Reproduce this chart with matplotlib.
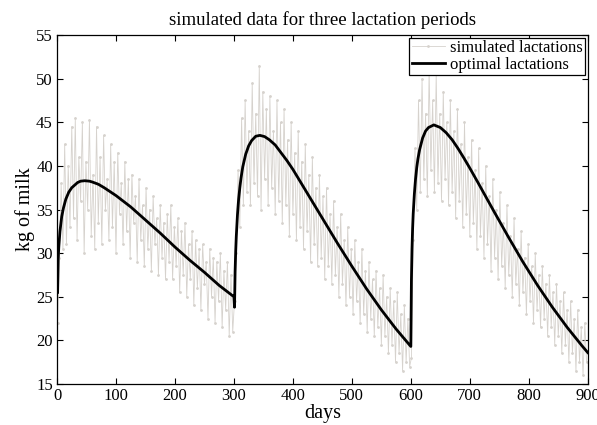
import numpy as np
import matplotlib
matplotlib.use("Agg")
import matplotlib.pyplot as plt

plt.rcParams['font.family'] = ['Liberation Serif', 'DejaVu Serif']

# simulated daily yields, read off every 3rd day of each lactation
sim_p1 = [22.0, 29.5, 38.0, 30.5, 42.5, 31.0, 40.0, 33.0, 44.5, 34.0,
          45.5, 31.5, 41.0, 36.0, 45.0, 30.0, 40.5, 35.0, 45.3, 32.0,
          39.0, 30.5, 44.5, 33.5, 41.0, 31.0, 43.5, 35.0, 38.5, 31.5,
          42.5, 33.0, 40.5, 30.0, 41.5, 34.5, 38.0, 31.0, 40.5, 32.5,
          38.5, 29.5, 39.0, 33.5, 36.5, 29.0, 38.5, 31.5, 35.5, 28.5,
          37.5, 30.5, 35.0, 28.0, 36.5, 31.0, 34.0, 27.5, 35.5, 29.5,
          33.5, 27.0, 34.5, 29.0, 35.5, 27.0, 33.0, 28.5, 34.0, 25.5,
          32.5, 27.5, 33.5, 25.0, 31.0, 27.0, 32.5, 24.0, 31.5, 26.0,
          30.5, 23.5, 31.0, 26.5, 29.0, 22.5, 30.5, 25.0, 29.5, 22.0,
          29.0, 24.5, 30.0, 21.5, 28.0, 23.5, 29.0, 20.5, 27.5, 21.0]
sim_p2 = [24.5, 30.0, 39.5, 33.0, 45.5, 35.5, 47.5, 37.0, 44.0, 35.5,
          49.5, 38.0, 46.0, 36.5, 51.5, 35.0, 48.5, 38.5, 46.5, 35.5,
          48.0, 37.5, 44.0, 34.5, 47.5, 36.0, 45.0, 33.5, 46.5, 35.5,
          43.0, 32.0, 45.0, 34.5, 41.5, 31.5, 44.0, 33.0, 40.5, 30.5,
          42.5, 32.5, 39.0, 29.0, 41.0, 31.0, 37.5, 28.5, 39.0, 29.5,
          36.5, 27.0, 37.5, 28.5, 34.5, 26.5, 36.0, 27.5, 33.0, 25.0,
          34.5, 26.5, 31.5, 24.0, 33.0, 25.0, 30.5, 23.0, 31.5, 24.5,
          29.0, 22.0, 30.5, 23.0, 28.0, 21.0, 29.0, 22.5, 27.0, 20.5,
          28.0, 21.5, 26.0, 19.5, 27.5, 20.5, 25.0, 18.5, 26.0, 19.5,
          24.5, 17.5, 25.5, 18.5, 23.0, 16.5, 24.0, 17.5, 22.5, 17.0]
sim_p3 = [18.0, 31.5, 42.0, 35.0, 47.5, 37.0, 50.0, 38.5, 46.0, 36.5,
          51.0, 39.5, 47.5, 37.0, 50.5, 38.0, 46.0, 36.0, 48.5, 38.5,
          45.0, 35.5, 47.5, 37.0, 44.0, 34.0, 46.5, 36.0, 42.5, 33.0,
          45.0, 34.5, 41.0, 32.0, 43.0, 33.5, 39.5, 30.5, 42.0, 32.0,
          38.0, 29.5, 40.0, 31.0, 36.5, 28.0, 38.5, 29.5, 35.0, 27.0,
          37.0, 28.5, 33.5, 26.0, 35.5, 27.5, 32.0, 25.0, 34.0, 26.5,
          30.5, 24.0, 32.5, 25.5, 29.5, 23.0, 31.0, 24.5, 28.5, 22.0,
          30.0, 23.5, 27.5, 21.5, 28.5, 22.5, 26.5, 20.5, 27.5, 21.5,
          25.5, 19.5, 26.5, 20.5, 24.5, 18.5, 25.5, 19.5, 23.5, 17.5,
          24.5, 18.5, 22.5, 16.5, 23.5, 17.5, 21.5, 16.0, 22.0, 17.5]
sim_t = np.arange(1, 300, 3)

# fitted (optimal) curves, day in lactation -> kg
opt_t1 = [1, 2, 3, 5, 8, 11, 15, 20, 25, 35, 40, 47, 55, 60, 70, 80, 100, 125, 150,
          175, 200, 225, 250, 275, 300]
opt_p1 = [25.5, 29.3, 30.7, 32.5, 34.2, 35.2, 36.2, 37.0, 37.5, 38.1, 38.25, 38.3,
          38.25, 38.15, 37.9, 37.5, 36.6, 35.3, 33.8, 32.3, 30.7, 29.2, 27.8, 26.3, 25.0]
opt_t2 = [1, 2, 3, 4, 6, 8, 10, 12, 15, 20, 25, 30, 37, 44, 52, 60, 70, 80, 90, 100,
          125, 150, 175, 200, 225, 250, 275, 300]
opt_p2 = [23.8, 27.9, 30.2, 31.9, 34.4, 36.2, 37.5, 38.6, 39.9, 41.35, 42.3, 42.9,
          43.4, 43.5, 43.36, 43.0, 42.4, 41.5, 40.6, 39.6, 36.8, 34.0, 31.2, 28.5,
          25.9, 23.5, 21.3, 19.3]
opt_t3 = [1, 2, 3, 4, 6, 8, 10, 12, 15, 20, 25, 30, 39, 50, 60, 70, 80, 90, 100, 115,
          140, 165, 190, 215, 240, 265, 290, 300]
opt_p3 = [26.9, 30.5, 32.8, 34.5, 36.8, 38.5, 39.8, 40.8, 41.9, 43.2, 44.0, 44.4,
          44.7, 44.4, 43.8, 43.0, 42.0, 40.9, 39.75, 37.95, 34.9, 31.9, 29.0, 26.3,
          23.8, 21.5, 19.4, 18.6]

sim_days = np.concatenate([sim_t, sim_t + 300, sim_t + 600])
sim_kg = np.concatenate([sim_p1, sim_p2, sim_p3])
opt_days = np.concatenate([opt_t1, np.array(opt_t2) + 300, np.array(opt_t3) + 600])
opt_kg = np.concatenate([opt_p1, opt_p2, opt_p3])

fig = plt.figure(figsize=(5.97, 4.25), dpi=100)
ax = fig.add_axes([0.0955, 0.0965, 0.889, 0.821])

ax.plot(sim_days, sim_kg, color='#d6d2cd', lw=0.6, marker='.', ms=2.0,
        label='simulated lactations')
ax.plot(opt_days, opt_kg, color='black', lw=2.0, label='optimal lactations')

ax.set_xlim(0, 900)
ax.set_ylim(15, 55)
ax.set_xticks(np.arange(0, 901, 100))
ax.set_yticks(np.arange(15, 56, 5))
ax.tick_params(direction='in', top=True, right=True, length=4, labelsize=12, pad=3)
for s in ax.spines.values():
    s.set_linewidth(0.9)

ax.set_title('simulated data for three lactation periods', fontsize=13.5, pad=7)
ax.set_xlabel('days', fontsize=14.5, labelpad=0)
ax.set_ylabel('kg of milk', fontsize=14.5, labelpad=1)

leg = ax.legend(loc='upper right', fontsize=12, fancybox=False, framealpha=1,
                edgecolor='black', borderaxespad=0.15, borderpad=0.15,
                labelspacing=0.05, handlelength=2.0, handletextpad=0.3)
leg.get_frame().set_linewidth(0.9)

fig.savefig('out.png', dpi=100)
